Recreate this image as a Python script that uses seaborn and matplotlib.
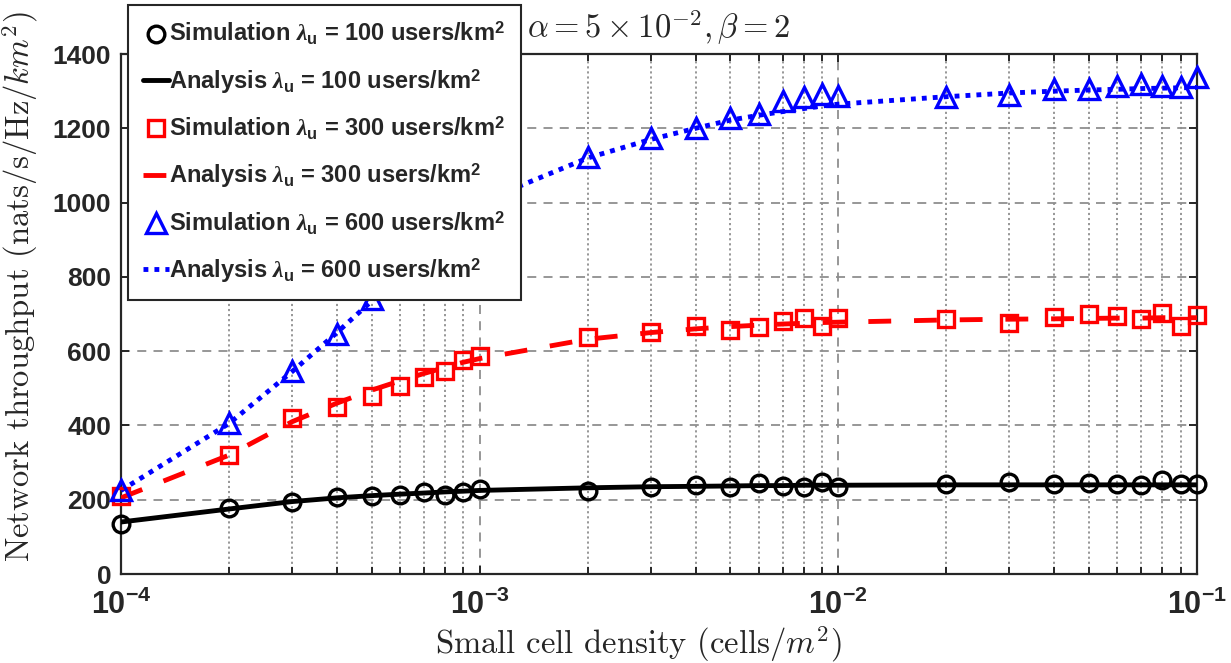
import matplotlib
matplotlib.use("Agg")
import matplotlib.pyplot as plt
from matplotlib.lines import Line2D
from matplotlib.ticker import FixedLocator, FuncFormatter, NullFormatter
import numpy as np
import pandas as pd
import seaborn as sns

# Small cell density (cells/m^2)
density = [1e-4, 2e-4, 3e-4, 4e-4, 5e-4, 6e-4, 7e-4, 8e-4, 9e-4,
           1e-3, 2e-3, 3e-3, 4e-3, 5e-3, 6e-3, 7e-3, 8e-3, 9e-3,
           1e-2, 2e-2, 3e-2, 4e-2, 5e-2, 6e-2, 7e-2, 8e-2, 9e-2, 1e-1]

# Network throughput, lambda_u = 100 users/km^2
sim_100 = [135, 177, 195, 208, 210, 214, 220, 213, 222,
           228, 224, 235, 240, 235, 246, 237, 235, 249,
           233, 242, 249, 242, 244, 242, 240, 253, 242, 242]
ana_100 = [140, 175, 195, 205, 211, 215, 218, 221, 223,
           225, 232, 235, 236, 237, 238, 238, 239, 239,
           239, 240, 240, 240, 240, 240, 240, 240, 240, 240]

# Network throughput, lambda_u = 300 users/km^2
sim_300 = [210, 320, 420, 450, 480, 507, 530, 547, 575,
           587, 639, 651, 669, 657, 666, 682, 688, 669,
           688, 686, 677, 691, 700, 695, 686, 702, 669, 697]
ana_300 = [205, 320, 410, 460, 495, 520, 540, 556, 570,
           580, 632, 650, 660, 666, 670, 673, 675, 677,
           678, 684, 686, 687, 688, 689, 689, 690, 690, 690]

# Network throughput, lambda_u = 600 users/km^2
sim_600 = [225, 406, 547, 646, 740, 810, 870, 925, 965,
           1005, 1123, 1174, 1200, 1228, 1238, 1273, 1284, 1292,
           1287, 1284, 1290, 1305, 1305, 1315, 1318, 1315, 1310, 1338]
ana_600 = [225, 405, 545, 650, 735, 810, 870, 920, 965,
           1000, 1120, 1170, 1200, 1222, 1235, 1245, 1253, 1260,
           1265, 1285, 1295, 1300, 1303, 1305, 1307, 1308, 1309, 1310]

y_ticks = [0, 200, 400, 600, 800, 1000, 1200, 1400]
x_ticks = [1e-4, 1e-3, 1e-2, 1e-1]

sns.set_style("ticks")
plt.rcParams.update({
    "font.family": ["Liberation Sans", "DejaVu Sans"],
    "font.weight": "bold",
    "mathtext.fontset": "custom",
    "mathtext.rm": "Liberation Sans:bold",
    "mathtext.bf": "Liberation Sans:bold",
    "mathtext.it": "Liberation Serif:italic",
    "mathtext.sf": "Liberation Sans:bold",
})

AX_COLOR = "#262626"
GRID_COLOR = "#8f8f8f"

df = pd.DataFrame({
    "density": density,
    "sim_100": sim_100, "ana_100": ana_100,
    "sim_300": sim_300, "ana_300": ana_300,
    "sim_600": sim_600, "ana_600": ana_600,
})

fig = plt.figure(figsize=(12.31, 6.63), dpi=100)
W, H = 1231, 663
ax = fig.add_axes([121 / W, 1 - 574 / H, (1197 - 121) / W, (574 - 54) / H])

LW = 3.5
MEW = 2.4
RED_DASH = (4.7, 4.7)
BLUE_DOT = (1.0, 1.25)

# analysis curves
sns.lineplot(data=df, x="density", y="ana_100", ax=ax, color="black",
             lw=LW, zorder=3)
sns.lineplot(data=df, x="density", y="ana_300", ax=ax, color="#ff0000",
             lw=LW, zorder=3)
sns.lineplot(data=df, x="density", y="ana_600", ax=ax, color="#0000ff",
             lw=LW, zorder=3)
ax.lines[1].set_dashes(RED_DASH)
ax.lines[2].set_dashes(BLUE_DOT)
for ln in ax.lines:
    ln.set_dash_capstyle("butt")

# simulation markers
marker_kw = dict(linestyle="", markerfacecolor="none", markeredgewidth=MEW,
                 zorder=4, clip_on=False)
sns.lineplot(data=df, x="density", y="sim_100", ax=ax, color="black",
             marker="o", markersize=12, markeredgecolor="black", **marker_kw)
sns.lineplot(data=df, x="density", y="sim_300", ax=ax, color="#ff0000",
             marker="s", markersize=11, markeredgecolor="#ff0000", **marker_kw)
sns.lineplot(data=df, x="density", y="sim_600", ax=ax, color="#0000ff",
             marker="^", markersize=15, markeredgecolor="#0000ff", **marker_kw)

ax.set_xscale("log")
ax.set_xlim(1e-4, 1e-1)
ax.set_ylim(0, 1400)
ax.yaxis.set_major_locator(FixedLocator(y_ticks))
ax.xaxis.set_major_locator(FixedLocator(x_ticks))


def decade_label(v, pos):
    e = int(round(np.log10(v)))
    return r"$\mathbf{10^{%d}}$" % e


ax.xaxis.set_major_formatter(FuncFormatter(decade_label))
ax.xaxis.set_minor_formatter(NullFormatter())

ax.grid(which="major", axis="both", color=GRID_COLOR, linestyle=(0, (5, 4)),
        linewidth=1.3, zorder=0)
ax.grid(which="minor", axis="x", color=GRID_COLOR, linestyle=(0, (1.2, 1.6)),
        linewidth=1.3, zorder=0)
ax.set_axisbelow(True)

for s in ax.spines.values():
    s.set_color(AX_COLOR)
    s.set_linewidth(1.6)
    s.set_visible(True)

ax.tick_params(which="both", direction="in", top=True, right=True,
               colors=AX_COLOR, width=1.4)
ax.tick_params(which="major", length=6)
ax.tick_params(which="minor", length=5)
ax.tick_params(axis="x", which="major", pad=11, labelsize=22)
ax.tick_params(axis="y", which="major", pad=7, labelsize=19)
for lab in ax.get_yticklabels():
    lab.set_fontweight("bold")

ax.set_xlabel(r"Small cell density (cells/$m^2$)", fontsize=23.5,
              family="cmr10", fontweight="normal", math_fontfamily="cm",
              color=AX_COLOR)
ax.set_ylabel(r"Network throughput (nats/s/Hz/$km^2$)", fontsize=23.5,
              family="cmr10", fontweight="normal", math_fontfamily="cm",
              color=AX_COLOR)
ax.xaxis.set_label_coords((638 - 121) / 1076, (574 - 624) / 520)
ax.yaxis.set_label_coords((40 - 121) / 1076, (574 - 287) / 520)
fig.text(658 / W, 1 - 28 / H, r"$\alpha = 5\times10^{-2}, \beta = 2$",
         fontsize=23.5, math_fontfamily="cm", ha="center", va="center",
         color=AX_COLOR)

handles = [
    Line2D([], [], linestyle="", marker="o", markersize=12,
           markerfacecolor="none", markeredgecolor="black", markeredgewidth=MEW),
    Line2D([], [], color="black", lw=LW),
    Line2D([], [], linestyle="", marker="s", markersize=11,
           markerfacecolor="none", markeredgecolor="#ff0000", markeredgewidth=MEW),
    Line2D([], [], color="#ff0000", lw=LW, dashes=RED_DASH, dash_capstyle="butt"),
    Line2D([], [], linestyle="", marker="^", markersize=15,
           markerfacecolor="none", markeredgecolor="#0000ff", markeredgewidth=MEW),
    Line2D([], [], color="#0000ff", lw=LW, dashes=BLUE_DOT, dash_capstyle="butt"),
]
labels = [
    r"Simulation $\lambda_\mathrm{u}$ = 100 users/km$^\mathrm{2}$",
    r"Analysis $\lambda_\mathrm{u}$ = 100 users/km$^\mathrm{2}$",
    r"Simulation $\lambda_\mathrm{u}$ = 300 users/km$^\mathrm{2}$",
    r"Analysis $\lambda_\mathrm{u}$ = 300 users/km$^\mathrm{2}$",
    r"Simulation $\lambda_\mathrm{u}$ = 600 users/km$^\mathrm{2}$",
    r"Analysis $\lambda_\mathrm{u}$ = 600 users/km$^\mathrm{2}$",
]
leg = fig.legend(handles, labels, loc="upper left",
                 bbox_to_anchor=(128 / W, 1 - 5 / H),
                 prop={"family": "Liberation Sans", "weight": "bold", "size": 17},
                 frameon=True, fancybox=False, framealpha=1,
                 edgecolor=AX_COLOR, handlelength=1.1, handletextpad=0.0,
                 labelspacing=0.82, borderpad=0.65, borderaxespad=0)
leg.get_frame().set_linewidth(1.5)
leg.set_zorder(10)

fig.savefig("out.png", dpi=100)
